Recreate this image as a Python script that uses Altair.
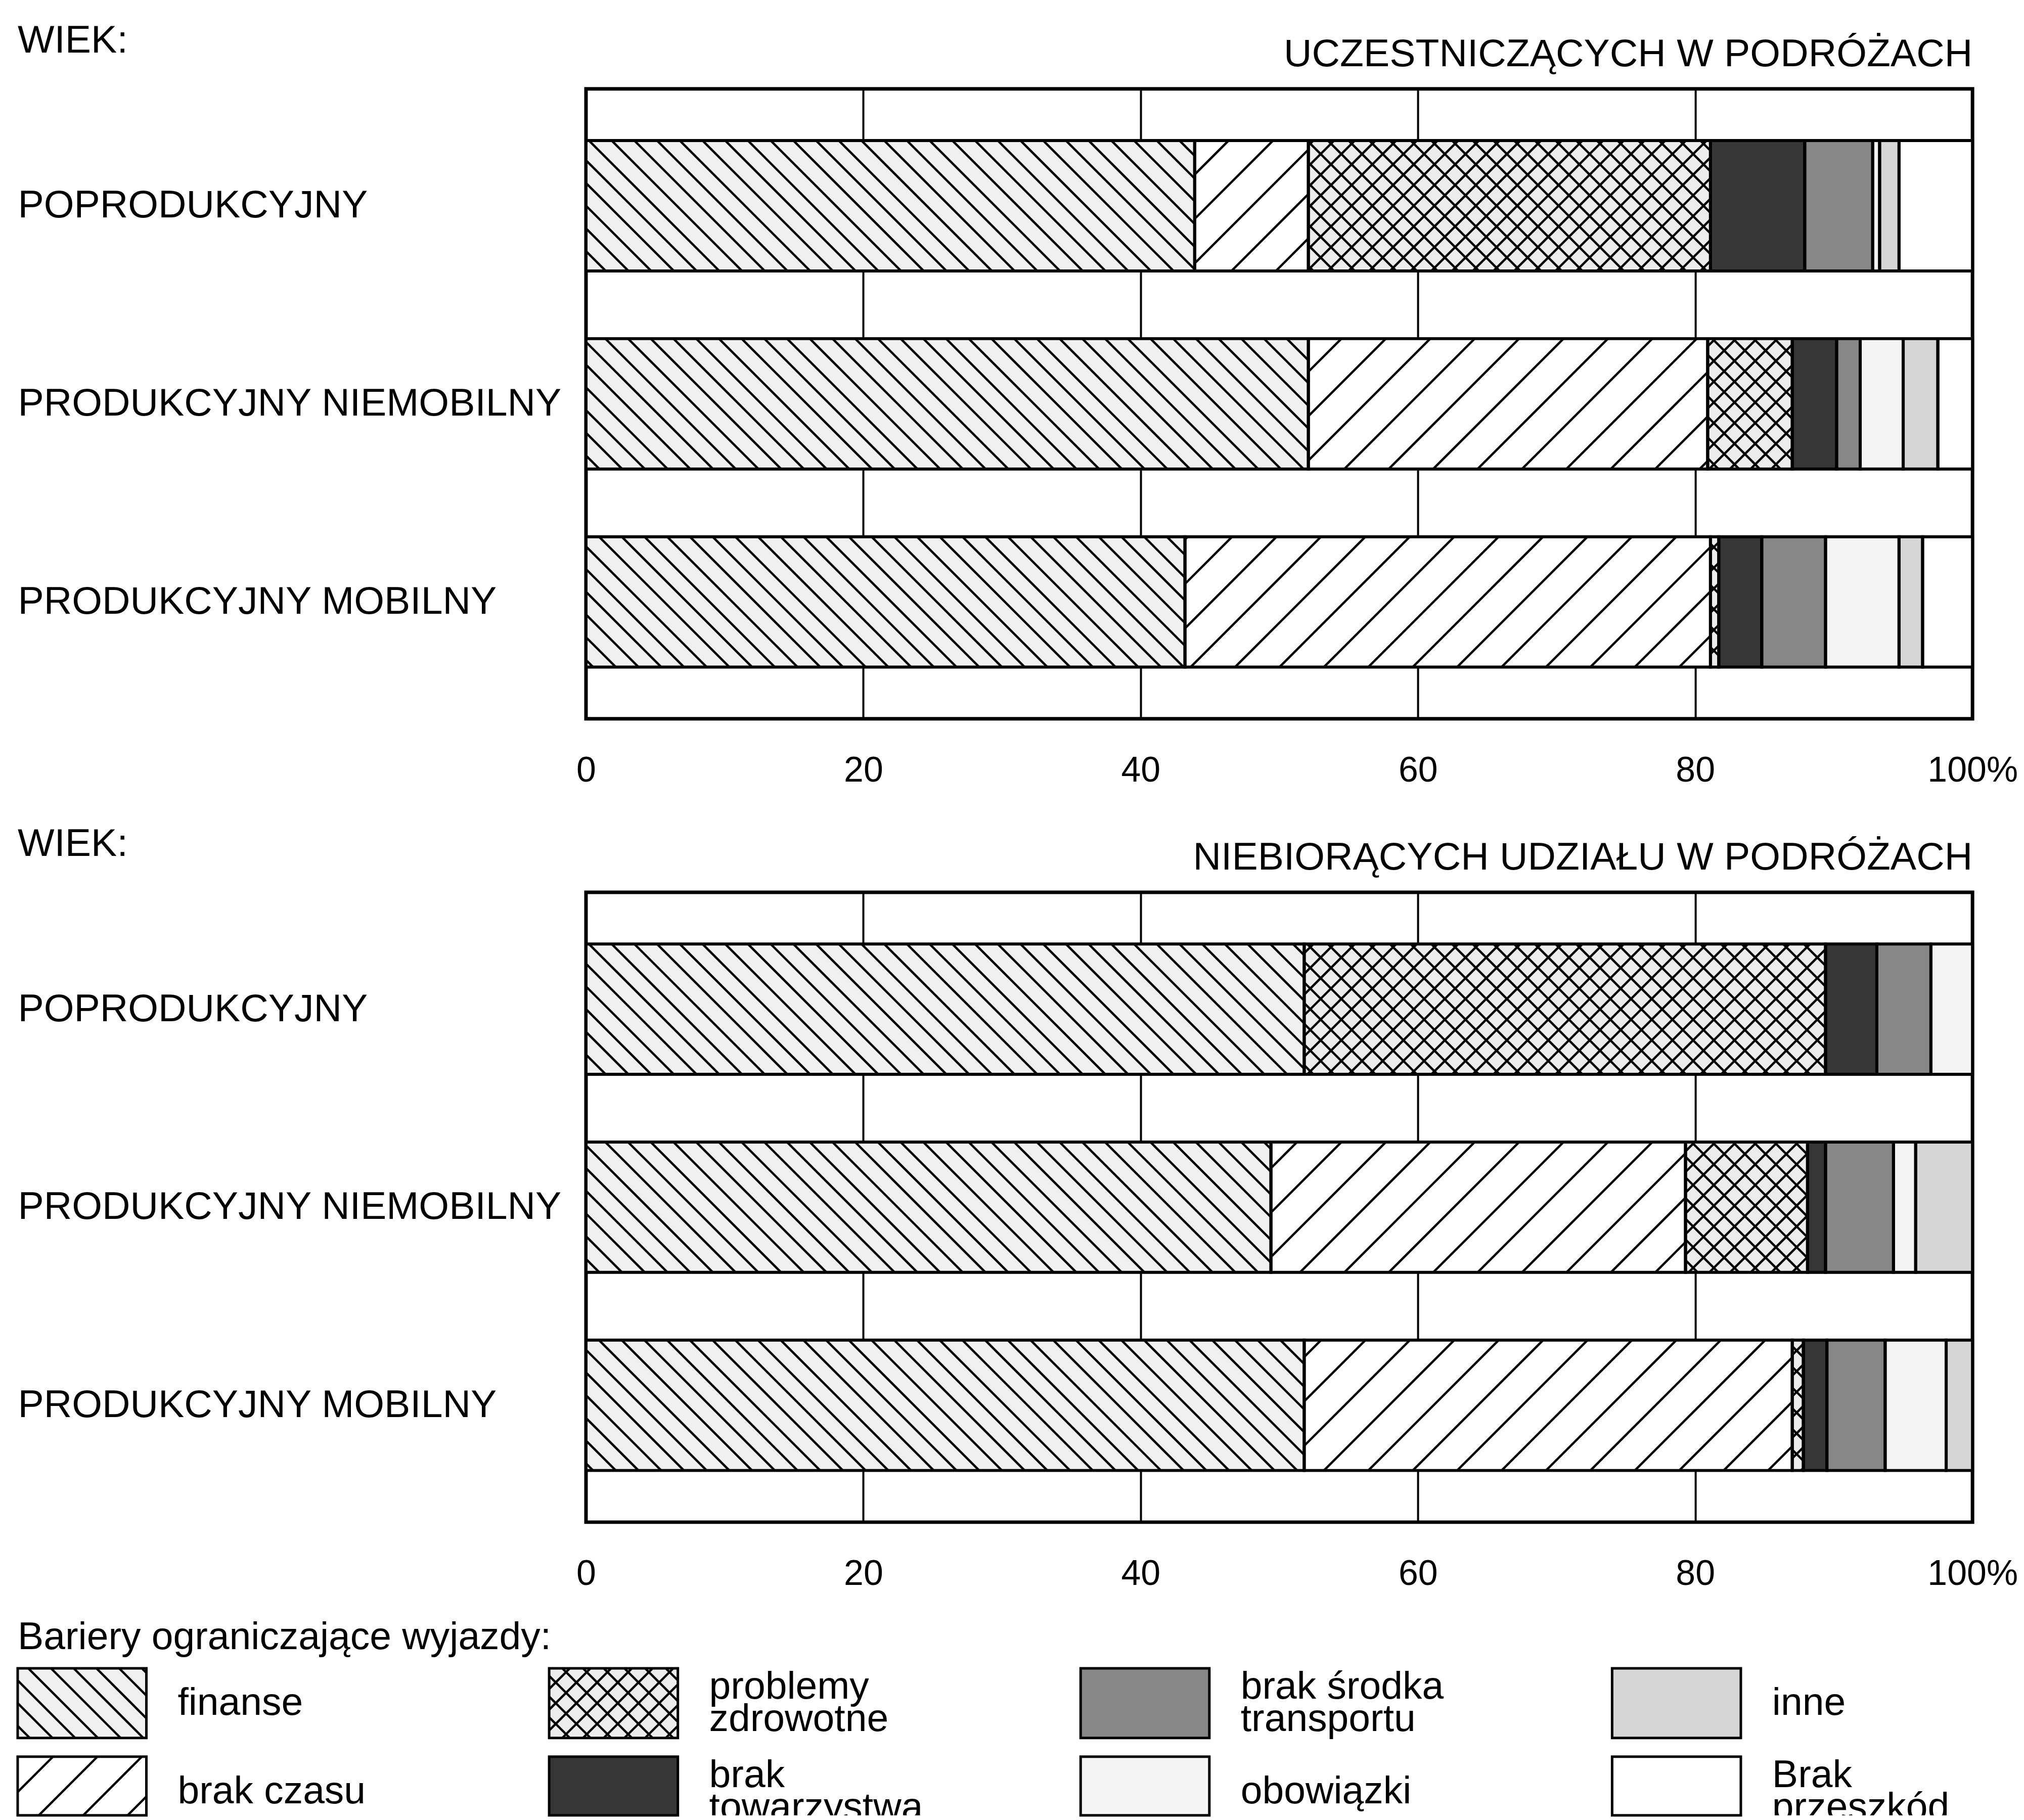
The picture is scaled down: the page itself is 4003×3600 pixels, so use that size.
import json
import altair as alt
import pandas as pd

# ---------------- data ----------------
categories = ["finanse", "brak czasu", "problemy zdrowotne", "brak towarzystwa",
              "brak środka transportu", "obowiązki", "inne", "Brak przeszkód"]
legend_labels = ["finanse", "brak czasu", "problemy\nzdrowotne", "brak\ntowarzystwa",
                 "brak środka\ntransportu", "obowiązki", "inne", "Brak\nprzeszkód"]
legend_heading = "Bariery ograniczające wyjazdy:"
age_groups = ["POPRODUKCYJNY", "PRODUKCYJNY NIEMOBILNY", "PRODUKCYJNY MOBILNY"]
age_title = "WIEK:"
panel_titles = ["UCZESTNICZĄCYCH W PODRÓŻACH", "NIEBIORĄCYCH UDZIAŁU W PODRÓŻACH"]
x_ticks = [0, 20, 40, 60, 80, 100]

# shares in %, in the order of `categories`
uczestniczacy_poprodukcyjny = [43.9, 8.2, 29.0, 6.8, 4.9, 0.5, 1.4, 5.3]
uczestniczacy_niemobilny = [52.1, 28.8, 6.1, 3.2, 1.7, 3.1, 2.5, 2.5]
uczestniczacy_mobilny = [43.2, 37.9, 0.6, 3.1, 4.6, 5.3, 1.7, 3.6]
niebioracy_poprodukcyjny = [51.8, 0.0, 37.6, 3.7, 3.9, 3.0, 0.0, 0.0]
niebioracy_niemobilny = [49.4, 29.9, 8.8, 1.3, 4.9, 1.6, 4.1, 0.0]
niebioracy_mobilny = [51.8, 35.2, 0.8, 1.7, 4.2, 4.4, 1.9, 0.0]

panels = [
    [uczestniczacy_poprodukcyjny, uczestniczacy_niemobilny, uczestniczacy_mobilny],
    [niebioracy_poprodukcyjny, niebioracy_niemobilny, niebioracy_mobilny],
]
records = []
for p, rows_vals in enumerate(panels):
    for r, vals in enumerate(rows_vals):
        for i, (c, v) in enumerate(zip(categories, vals)):
            records.append({"panel": p, "row": r, "order": i, "category": c, "value": v})
df = pd.DataFrame(records)
leg_df = pd.DataFrame({"category": categories, "label": legend_labels,
                       "order": list(range(len(categories)))})

# ---------------- style ----------------
FONT = "Liberation Sans"
FS = 77
TICK_FS = 70
fills = ["#f0f0f0", "#ffffff", "#ececec", "#363636", "#878787", "#f5f5f5", "#d6d6d6", "#ffffff"]
hatch_back = {"finanse": 45, "problemy zdrowotne": 41}     # "\\" lines, spacing px
hatch_fwd = {"brak czasu": 88, "problemy zdrowotne": 41}   # "/" lines, spacing px
HATCH_W = 4.5

PLOT_W, PLOT_H = 2747, 1248
Y_DOM = [-0.59, 2.59]
BAR_HALF = 0.329
PX = PLOT_W / 100.0
PY = PLOT_H / (Y_DOM[1] - Y_DOM[0])
LABEL_PAD = 1126          # px from plot left to row-label start
TITLE_UP = 45             # px from plot top to title baseline
WIEK_UP = 72              # px from plot top to "WIEK:" baseline

cs = alt.Scale(domain=categories, range=fills)


def hatch_layers(base, px, py, half, xs, ys, xaxis, yaxis, ymax=None):
    layers = []
    bottom = f"(datum.row + {half})" if ymax is None else f"min(datum.row + {half}, {ymax})"
    for direction, spec in (("back", hatch_back), ("fwd", hatch_fwd)):
        cats = json.dumps(list(spec.keys()), ensure_ascii=False)
        sps = json.dumps(list(spec.values()))
        idx = f"indexof({cats}, datum.category)"
        ch = base.transform_filter(f"{idx} >= 0").transform_calculate(
            S=f"{sps}[{idx}]",
            pa=f"datum.x0 * {px}", pb=f"datum.x1 * {px}",
            pt=f"(datum.row - {half}) * {py}", pu=f"{bottom} * {py}")
        if direction == "back":
            ch = ch.transform_calculate(
                ks="sequence(ceil((datum.pa - datum.pu) / datum.S), floor((datum.pb - datum.pt) / datum.S) + 1)")
            ch = ch.transform_flatten(["ks"]).transform_calculate(
                c="datum.ks * datum.S",
                lo="max(datum.pa, datum.pt + datum.c)",
                hi="min(datum.pb, datum.pu + datum.c)")
            ch = ch.transform_calculate(hy1=f"(datum.lo - datum.c) / {py}",
                                        hy2=f"(datum.hi - datum.c) / {py}")
        else:
            ch = ch.transform_calculate(
                ks="sequence(ceil((datum.pa + datum.pt) / datum.S), floor((datum.pb + datum.pu) / datum.S) + 1)")
            ch = ch.transform_flatten(["ks"]).transform_calculate(
                c="datum.ks * datum.S",
                lo="max(datum.pa, datum.c - datum.pu)",
                hi="min(datum.pb, datum.c - datum.pt)")
            ch = ch.transform_calculate(hy1=f"(datum.c - datum.lo) / {py}",
                                        hy2=f"(datum.c - datum.hi) / {py}")
        ch = ch.transform_filter("datum.hi - datum.lo > 1").transform_calculate(
            hx1=f"datum.lo / {px}", hx2=f"datum.hi / {px}")
        layers.append(ch.mark_rule(color="black", strokeWidth=HATCH_W, strokeCap="butt").encode(
            x=alt.X("hx1:Q", scale=xs, axis=xaxis), x2="hx2:Q",
            y=alt.Y("hy1:Q", scale=ys, axis=yaxis), y2="hy2:Q"))
    return layers


def make_panel(p):
    xs = alt.Scale(domain=[0, 100], nice=False, zero=False)
    ys = alt.Scale(domain=Y_DOM, nice=False, zero=False, reverse=True)
    xaxis = alt.Axis(values=x_ticks, labelExpr="datum.value == 100 ? '100%' : datum.label",
                     grid=True, gridColor="black", gridWidth=4, gridOpacity=1,
                     ticks=False, tickSize=0, domain=False, labelPadding=69, labelLimit=1000,
                     labelFontSize=TICK_FS, labelFont=FONT, labelColor="black",
                     labelFlush=False, labelOverlap=False, title=None)
    yaxis = alt.Axis(values=list(range(len(age_groups))),
                     labelExpr=f"{json.dumps(age_groups, ensure_ascii=False)}[datum.value]",
                     labelAlign="left", labelBaseline="middle", labelPadding=LABEL_PAD, labelLimit=3000,
                     labelFontSize=FS, labelFont=FONT, labelColor="black", labelOverlap=False,
                     ticks=False, tickSize=0, domain=False, grid=False, title=None)
    base = (alt.Chart(df)
            .transform_filter(f"datum.panel == {p}")
            .transform_window(cum="sum(value)", groupby=["row"],
                              sort=[alt.SortField("order")], frame=[None, 0])
            .transform_calculate(x0="datum.cum - datum.value", x1="datum.cum")
            .transform_filter("datum.value > 0"))
    rects = base.transform_calculate(y0=f"datum.row - {BAR_HALF}", y1=f"datum.row + {BAR_HALF}")
    bars = rects.mark_rect().encode(
        x=alt.X("x0:Q", scale=xs, axis=xaxis), x2="x1:Q",
        y=alt.Y("y0:Q", scale=ys, axis=yaxis), y2="y1:Q",
        color=alt.Color("category:N", scale=cs, legend=None))
    outlines = rects.mark_rect(fill="white", fillOpacity=0, stroke="black", strokeWidth=6).encode(
        x=alt.X("x0:Q", scale=xs, axis=xaxis), x2="x1:Q",
        y=alt.Y("y0:Q", scale=ys, axis=yaxis), y2="y1:Q")
    hatches = hatch_layers(base, PX, PY, BAR_HALF, xs, ys, xaxis, yaxis)
    title_txt = alt.Chart(pd.DataFrame({"t": [panel_titles[p]]})).transform_calculate(
        tx=f"{x_ticks[-1]}", ty=f"{Y_DOM[0] - TITLE_UP / PY}").mark_text(
        align="right", baseline="alphabetic", fontSize=FS, font=FONT, color="black").encode(
        x=alt.X("tx:Q", scale=xs, axis=xaxis), y=alt.Y("ty:Q", scale=ys, axis=yaxis), text="t:N")
    wiek_txt = alt.Chart(pd.DataFrame({"t": [age_title]})).transform_calculate(
        tx=f"{-LABEL_PAD / PX}", ty=f"{Y_DOM[0] - WIEK_UP / PY}").mark_text(
        align="left", baseline="alphabetic", fontSize=FS, font=FONT, color="black").encode(
        x=alt.X("tx:Q", scale=xs, axis=xaxis), y=alt.Y("ty:Q", scale=ys, axis=yaxis), text="t:N")
    return alt.layer(bars, *hatches, outlines, title_txt, wiek_txt).properties(
        width=PLOT_W, height=PLOT_H,
        view=alt.ViewBackground(stroke="black", strokeWidth=7))


# ---------------- legend ----------------
# the legend's plot area is aligned with the panels' plot area; its first
# column sits to the left of it, level with the row labels
LEG_COL_PX = 1053
LEG_ROW_PX = 175
SW_W = 255
SW_HALF = 69 / LEG_ROW_PX
LABEL_DX = 317
LINE_H = 64
LEG_X0 = LABEL_PAD / LEG_COL_PX
LEG_Y_DOM = [-0.98, 1.27]
LEG_H = round((LEG_Y_DOM[1] - LEG_Y_DOM[0]) * LEG_ROW_PX)
HEADING_Y = -0.743

lxs = alt.Scale(domain=[LEG_X0, LEG_X0 + PLOT_W / LEG_COL_PX], nice=False, zero=False)
lys = alt.Scale(domain=LEG_Y_DOM, nice=False, zero=False, reverse=True)
lbase = (alt.Chart(leg_df)
         .transform_calculate(col="floor(datum.order / 2)", row="datum.order % 2")
         .transform_calculate(x0="datum.col", x1=f"datum.col + {SW_W / LEG_COL_PX}"))
lrects = lbase.transform_calculate(y0=f"datum.row - {SW_HALF}",
                                   y1=f"min(datum.row + {SW_HALF}, {LEG_Y_DOM[1]})")
sw = lrects.mark_rect().encode(
    x=alt.X("x0:Q", scale=lxs, axis=None), x2="x1:Q",
    y=alt.Y("y0:Q", scale=lys, axis=None), y2="y1:Q",
    color=alt.Color("category:N", scale=cs, legend=None))
sw_out = lrects.mark_rect(fill="white", fillOpacity=0, stroke="black", strokeWidth=5).encode(
    x=alt.X("x0:Q", scale=lxs, axis=None), x2="x1:Q",
    y=alt.Y("y0:Q", scale=lys, axis=None), y2="y1:Q")
sw_hatch = hatch_layers(lbase, LEG_COL_PX, LEG_ROW_PX, SW_HALF, lxs, lys, None, None,
                        ymax=LEG_Y_DOM[1])
# multi-line labels are centred on their swatch
ltext = lbase.transform_calculate(
    lx=f"datum.col + {LABEL_DX / LEG_COL_PX}",
    nlines="length(split(datum.label, '\\n'))",
    ly=f"datum.row - (datum.nlines - 1) * {LINE_H / 2 / LEG_ROW_PX}")
text_kw = dict(align="left", baseline="middle", fontSize=FS, font=FONT, lineBreak="\n",
               lineHeight=LINE_H, color="black")
text_enc = dict(x=alt.X("lx:Q", scale=lxs, axis=None), y=alt.Y("ly:Q", scale=lys, axis=None),
                text="label:N")
leg_text_first = ltext.transform_filter("datum.col == 0").mark_text(**text_kw).encode(**text_enc)
leg_text_rest = ltext.transform_filter("datum.col > 0").mark_text(clip=True, **text_kw).encode(**text_enc)
heading = alt.Chart(pd.DataFrame({"t": [legend_heading]})).transform_calculate(
    hx="0", hy=f"{HEADING_Y}").mark_text(
    align="left", baseline="middle", fontSize=FS, font=FONT, color="black").encode(
    x=alt.X("hx:Q", scale=lxs, axis=None), y=alt.Y("hy:Q", scale=lys, axis=None), text="t:N")
legend = alt.layer(sw, *sw_hatch, sw_out, leg_text_first, leg_text_rest, heading).properties(
    width=PLOT_W, height=LEG_H)

chart = (alt.vconcat(alt.vconcat(make_panel(0), make_panel(1), spacing=64), legend, spacing=44)
         .properties(padding={"left": 23, "top": 27, "right": 0, "bottom": 0})
         .configure_view(stroke="transparent"))

chart.save("out.html", embed_options={"renderer": "svg", "actions": False})
